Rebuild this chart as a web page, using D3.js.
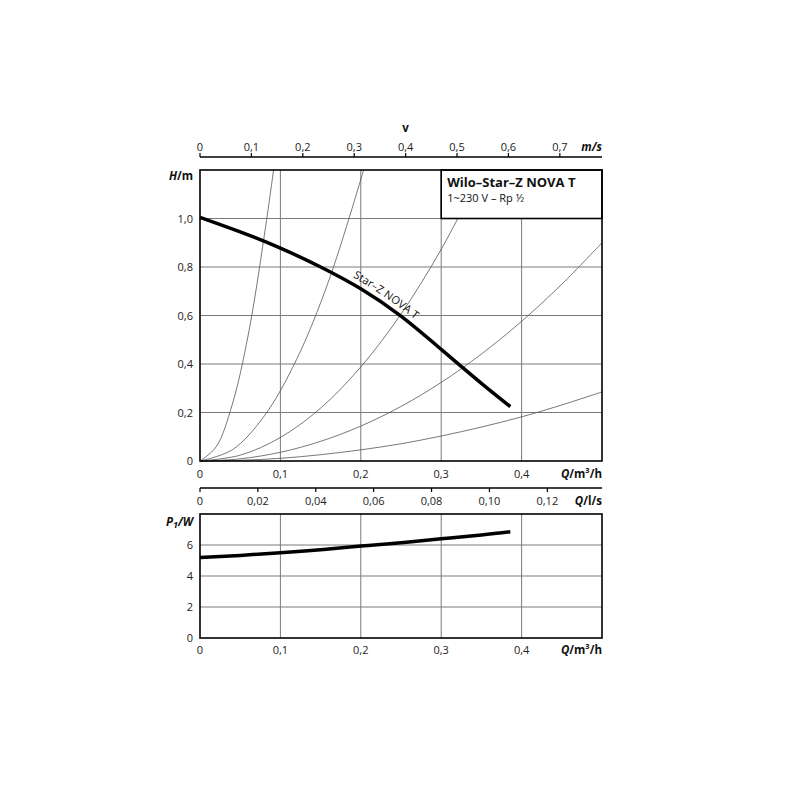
<!DOCTYPE html>
<html><head><meta charset="utf-8">
<script src="https://cdn.jsdelivr.net/npm/d3@7"></script>
<style>body{margin:0;background:#fff}svg{display:block}</style>
</head><body><svg id="c" width="800" height="800"></svg>
<script>
// ---- data ----
const Q_TICKS = [0, 0.1, 0.2, 0.3, 0.4];
const H_TICKS = [0, 0.2, 0.4, 0.6, 0.8, 1.0];
const V_TICKS = [0, 0.1, 0.2, 0.3, 0.4, 0.5, 0.6, 0.7];
const LS_TICKS = [0, 0.02, 0.04, 0.06, 0.08, 0.10, 0.12];
const P_TICKS = [0, 2, 4, 6];

const pumpQ = [0, 0.05, 0.1, 0.15, 0.2, 0.25, 0.3, 0.35, 0.386];
const pumpH = [1.005, 0.945, 0.878, 0.80, 0.71, 0.597, 0.46, 0.32, 0.224];

const powerQ = [0, 0.05, 0.1, 0.15, 0.2, 0.25, 0.3, 0.35, 0.386];
const powerP = [5.2, 5.33, 5.5, 5.7, 5.93, 6.15, 6.4, 6.65, 6.86];

const sys1Q = [0, 0.02, 0.04, 0.06, 0.08, 0.0915];
const sys1H = [0, 0.058, 0.232, 0.52, 0.93, 1.2];
const sys2Q = [0, 0.04, 0.08, 0.12, 0.16, 0.2035];
const sys2H = [0, 0.046, 0.186, 0.418, 0.742, 1.2];
const sys3Q = [0, 0.05, 0.1, 0.15, 0.2, 0.25, 0.3, 0.3517];
const sys3H = [0, 0.024, 0.097, 0.218, 0.388, 0.606, 0.873, 1.2];
const sys4Q = [0, 0.05, 0.1, 0.15, 0.2, 0.25, 0.3, 0.35, 0.4, 0.45, 0.5];
const sys4H = [0, 0.009, 0.036, 0.081, 0.144, 0.225, 0.324, 0.441, 0.576, 0.729, 0.9];
const sys5Q = [0, 0.05, 0.1, 0.15, 0.2, 0.25, 0.3, 0.35, 0.4, 0.45, 0.5];
const sys5H = [0, 0.003, 0.011, 0.026, 0.046, 0.071, 0.103, 0.14, 0.182, 0.231, 0.285];

const TITLE = "Wilo–Star–Z NOVA T";
const SUBTITLE = "1~230 V – Rp ½";
const CURVE_LABEL = "Star–Z NOVA T";

// ---- layout ----
const svg = d3.select("#c");
const FONT = "'Open Sans', 'DejaVu Sans', sans-serif";
const L = 200, R = 602;
const x = d3.scaleLinear().domain([0, 0.5]).range([L, R]);
const y = d3.scaleLinear().domain([0, 1.2]).range([461, 170]);
const yP = d3.scaleLinear().domain([0, 8]).range([638, 514]);
const v = d3.scaleLinear().domain([0, 0.782]).range([L, R]);
const ls = d3.scaleLinear().domain([0, 0.5 / 3.6]).range([L, R]);

const fmt = (d, n) => d === 0 ? "0" : d.toFixed(n).replace(".", ",");
const zip = (a, b) => a.map((q, i) => [q, b[i]]);

function gridBox(g, ys, yTicks) {
  g.selectAll(null).data(Q_TICKS.slice(1)).join("line")
    .attr("x1", d => x(d)).attr("x2", d => x(d))
    .attr("y1", ys.range()[0]).attr("y2", ys.range()[1])
    .attr("stroke", "#7a7a7a").attr("stroke-width", 1);
  g.selectAll(null).data(yTicks.slice(1)).join("line")
    .attr("x1", L).attr("x2", R).attr("y1", d => ys(d)).attr("y2", d => ys(d))
    .attr("stroke", "#7a7a7a").attr("stroke-width", 1);
}

// main plot
const gm = svg.append("g");
gridBox(gm, y, H_TICKS);
const lineSys = d3.line().x(d => x(d[0])).y(d => y(d[1])).curve(d3.curveCatmullRom);
[[sys1Q, sys1H], [sys2Q, sys2H], [sys3Q, sys3H], [sys4Q, sys4H], [sys5Q, sys5H]].forEach(([q, h]) => {
  gm.append("path").attr("d", lineSys(zip(q, h))).attr("fill", "none")
    .attr("stroke", "#555").attr("stroke-width", 0.8);
});
// title box
gm.append("rect").attr("x", x(0.3)).attr("y", y(1.2)).attr("width", x(0.5) - x(0.3)).attr("height", y(1.0) - y(1.2))
  .attr("fill", "#fff").attr("stroke", "#000").attr("stroke-width", 1.6);
gm.append("text").attr("x", x(0.3) + 6).attr("y", y(1.2) + 17).text(TITLE)
  .attr("font-family", FONT).attr("font-weight", "bold").attr("font-size", 13).attr("fill", "#111");
gm.append("text").attr("x", x(0.3) + 6).attr("y", y(1.2) + 32).text(SUBTITLE)
  .attr("font-family", FONT).attr("font-size", 11).attr("fill", "#111");
// pump curve
const linePump = d3.line().x(d => x(d[0])).y(d => y(d[1])).curve(d3.curveNatural);
const pumpPath = gm.append("path").attr("id", "pump").attr("d", linePump(zip(pumpQ, pumpH))).attr("fill", "none")
  .attr("stroke", "#000").attr("stroke-width", 3.5).attr("stroke-linejoin", "round");
// label along the curve, starting near Q = 0.185
const pn = pumpPath.node();
let startLen = 0;
for (let s = 0; s < pn.getTotalLength(); s += 0.5) { if (pn.getPointAtLength(s).x >= x(0.186)) { startLen = s; break; } }
gm.append("text").attr("dy", -6).attr("font-family", FONT).attr("font-size", 11).attr("fill", "#111")
  .append("textPath").attr("href", "#pump").attr("startOffset", startLen).text(CURVE_LABEL);
gm.append("rect").attr("x", L).attr("y", y(1.2)).attr("width", R - L).attr("height", y(0) - y(1.2))
  .attr("fill", "none").attr("stroke", "#000").attr("stroke-width", 1.6);

const tl = (g, data, xf, yf, txt, anchor) => g.selectAll(null).data(data).join("text")
  .attr("x", xf).attr("y", yf).text(txt).attr("text-anchor", anchor)
  .attr("font-family", FONT).attr("font-size", 11).attr("fill", "#222");
tl(gm, H_TICKS, 193, d => y(d) + 4, d => fmt(d, 1), "end");
tl(gm, Q_TICKS, d => x(d), 478, d => fmt(d, 1), "middle");

function unitLabel(g, xx, yy, anchor, parts) {
  const t = g.append("text").attr("x", xx).attr("y", yy).attr("text-anchor", anchor)
    .attr("font-family", FONT).attr("font-size", 11.5).attr("fill", "#111").attr("font-weight", "bold");
  parts.forEach(p => {
    const s = t.append("tspan").text(p.t);
    if (p.i) s.attr("font-style", "italic");
    if (p.dy) s.attr("dy", p.dy);
    if (p.fs) s.attr("font-size", p.fs);
  });
}
unitLabel(gm, 193, 180, "end", [{t: "H", i: 1}, {t: "/m"}]);
unitLabel(gm, R, 478, "end", [{t: "Q", i: 1}, {t: "/m³/h"}]);

// top velocity axis
const gv = svg.append("g");
gv.append("line").attr("x1", L).attr("x2", R).attr("y1", 157).attr("y2", 157).attr("stroke", "#000").attr("stroke-width", 1.4);
gv.selectAll(null).data(V_TICKS).join("line").attr("x1", d => v(d)).attr("x2", d => v(d))
  .attr("y1", 157).attr("y2", 153).attr("stroke", "#000").attr("stroke-width", 1.2);
tl(gv, V_TICKS, d => v(d), 151, d => fmt(d, 1), "middle");
unitLabel(gv, R, 151, "end", [{t: "m/s", i: 1}]);
gv.append("text").attr("x", v(0.4)).attr("y", 132).attr("text-anchor", "middle").text("v")
  .attr("font-family", FONT).attr("font-size", 11.5).attr("font-weight", "bold").attr("fill", "#111");

// l/s axis
const gl = svg.append("g");
gl.append("line").attr("x1", L).attr("x2", R).attr("y1", 488).attr("y2", 488).attr("stroke", "#000").attr("stroke-width", 1.4);
gl.selectAll(null).data(LS_TICKS).join("line").attr("x1", d => ls(d)).attr("x2", d => ls(d))
  .attr("y1", 488).attr("y2", 492).attr("stroke", "#000").attr("stroke-width", 1.2);
tl(gl, LS_TICKS, d => ls(d), 505, d => fmt(d, 2), "middle");
unitLabel(gl, R, 505, "end", [{t: "Q", i: 1}, {t: "/l/s"}]);

// power plot
const gp = svg.append("g");
gridBox(gp, yP, P_TICKS);
const lineP = d3.line().x(d => x(d[0])).y(d => yP(d[1])).curve(d3.curveNatural);
gp.append("path").attr("d", lineP(zip(powerQ, powerP))).attr("fill", "none")
  .attr("stroke", "#000").attr("stroke-width", 3.5);
gp.append("rect").attr("x", L).attr("y", yP(8)).attr("width", R - L).attr("height", yP(0) - yP(8))
  .attr("fill", "none").attr("stroke", "#000").attr("stroke-width", 1.6);
tl(gp, P_TICKS, 193, d => yP(d) + 4, d => String(d), "end");
tl(gp, Q_TICKS, d => x(d), 654, d => fmt(d, 1), "middle");
unitLabel(gp, R, 654, "end", [{t: "Q", i: 1}, {t: "/m³/h"}]);
unitLabel(gp, 193, 526, "end", [{t: "P", i: 1}, {t: "1", i: 1, dy: 2, fs: 9}, {t: "/W", i: 1, dy: -2}]);
</script></body></html>
